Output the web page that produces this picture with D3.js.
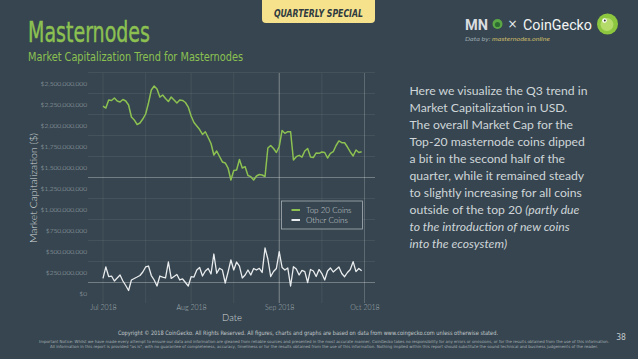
<!DOCTYPE html>
<html>
<head>
<meta charset="utf-8">
<script src="https://cdn.jsdelivr.net/npm/d3@7"></script>
<style>
  html, body { margin: 0; padding: 0; background: #36454f; }
  svg { display: block; }
</style>
</head>
<body>
<svg id="chart" width="638" height="359"></svg>
<script>
// ---------------- DATA ----------------
const startDate = "2018-07-01"; // daily values from this date
// Top 20 masternode coins market cap (billions USD)
const top20Values = [
  2.226, 2.202, 2.298, 2.292, 2.321, 2.286, 2.274, 2.304, 2.286, 2.238,
  2.095, 2.060, 2.006, 2.024, 2.071, 2.131, 2.262, 2.417, 2.464, 2.429,
  2.333, 2.357, 2.315, 2.280, 2.333, 2.298, 2.262, 2.298, 2.292, 2.268,
  2.214, 2.107, 2.030, 1.988, 1.946, 1.887, 1.920, 1.851, 1.780, 1.643,
  1.690, 1.625, 1.560, 1.548, 1.488, 1.345, 1.458, 1.464, 1.589, 1.488,
  1.504, 1.399, 1.385, 1.345, 1.393, 1.411, 1.405, 1.387, 1.726, 1.756,
  1.720, 1.673, 1.744, 1.935, 1.901, 1.920, 1.920, 1.583, 1.623, 1.639,
  1.617, 1.690, 1.720, 1.619, 1.613, 1.667, 1.663, 1.679, 1.673, 1.607,
  1.661, 1.682, 1.756, 1.810, 1.789, 1.789, 1.738, 1.679, 1.631, 1.702,
  1.673, 1.682
];
// Other coins market cap (millions USD)
const otherValues = [
  175, 310, 196, 202, 143, 179, 214, 143, 89, 30,
  155, 173, 190, 208, 250, 310, 321, 208, 155, 83,
  202, 190, 179, 369, 173, 196, 220, 155, 167, 125,
  83, 194, 190, 274, 304, 202, 262, 292, 226, 464,
  235, 294, 274, 119, 250, 393, 274, 369, 321, 179,
  214, 274, 214, 292, 274, 294, 244, 536, 405, 196,
  256, 292, 492, 304, 274, 298, 83, 313, 286, 214,
  270, 254, 125, 280, 262, 196, 280, 232, 155, 262,
  298, 250, 280, 310, 232, 194, 244, 280, 373, 254,
  292, 265
];
const seriesNames = ["Top 20 Coins", "Other Coins"];
const yTicks = [0, 250e6, 500e6, 750e6, 1000e6, 1250e6, 1500e6, 1750e6, 2000e6, 2250e6, 2500e6];
const xTickDates = ["2018-07-01", "2018-08-01", "2018-09-01", "2018-10-01"];
const xTickLabels = ["Jul 2018", "Aug 2018", "Sep 2018", "Oct 2018"];
const xGridDates = ["2018-07-01", "2018-07-16", "2018-08-01", "2018-08-16", "2018-09-01", "2018-09-16", "2018-10-01"];
const paragraph = [
  [["Here we visualize the Q3 trend in", false]],
  [["Market Capitalization in USD.", false]],
  [["The overall Market Cap for the", false]],
  [["Top-20 masternode coins dipped", false]],
  [["a bit in the second half of the", false]],
  [["quarter, while it remained steady", false]],
  [["to slightly increasing for all coins", false]],
  [["outside of the top 20 ", false], ["(partly due", true]],
  [["to the introduction of new coins", true]],
  [["into the ecosystem)", true]]
];

// ---------------- DRAW ----------------
const svg = d3.select("#chart");
const W = 638, H = 359;
const bg = "#36454f";
const green = "#8cc152";
svg.append("rect").attr("width", W).attr("height", H).attr("fill", bg);

const parse = d3.timeParse("%Y-%m-%d");
const d0 = parse(startDate);
const dateAt = i => d3.timeDay.offset(d0, i);
const top20 = top20Values.map((v, i) => ({ date: dateAt(i), value: v * 1e9 }));
const other = otherValues.map((v, i) => ({ date: dateAt(i), value: v * 1e6 }));

const x = d3.scaleTime().domain([parse("2018-07-01"), parse("2018-10-01")]).range([103, 364.5]);
const y = d3.scaleLinear().domain([0, 2.5e9]).range([293, 83]);
const plotLeft = 88, plotRight = 375, plotTop = 73, plotBottom = 303;

// Header
svg.append("text").attr("x", 28).attr("y", 42)
  .attr("font-family", "'Liberation Sans Narrow','DejaVu Sans Condensed','Roboto',sans-serif")
  .attr("font-size", 28).attr("fill", green)
  .attr("stroke", green).attr("stroke-width", 0.4)
  .attr("textLength", 122).attr("lengthAdjust", "spacingAndGlyphs")
  .text("Masternodes");
svg.append("text").attr("x", 28).attr("y", 61)
  .attr("font-family", "'Liberation Sans Narrow','DejaVu Sans Condensed','Roboto',sans-serif")
  .attr("font-size", 12.5).attr("fill", green)
  .attr("textLength", 215).attr("lengthAdjust", "spacingAndGlyphs")
  .text("Market Capitalization Trend for Masternodes");

// Quarterly special tab
svg.append("path")
  .attr("d", "M262,0 H375 V19 Q375,23 371,23 H266 Q262,23 262,19 Z")
  .attr("fill", "#f6e18c");
svg.append("text").attr("x", 318.5).attr("y", 16.5).attr("text-anchor", "middle")
  .attr("font-family", "'DejaVu Sans Condensed','Liberation Sans Narrow',sans-serif")
  .attr("font-weight", "bold").attr("font-style", "italic")
  .attr("font-size", 11).attr("fill", "#2f3b40")
  .attr("textLength", 89).attr("lengthAdjust", "spacingAndGlyphs")
  .text("QUARTERLY SPECIAL");

// Logos
svg.append("text").attr("x", 465).attr("y", 29.5)
  .attr("font-family", "Roboto, sans-serif").attr("font-weight", "bold")
  .attr("font-size", 15).attr("fill", "#d9dde0")
  .attr("textLength", 23).attr("lengthAdjust", "spacingAndGlyphs").text("MN");
svg.append("circle").attr("cx", 497.5).attr("cy", 24).attr("r", 5).attr("fill", "#5aa845");
svg.append("circle").attr("cx", 497.5).attr("cy", 24.5).attr("r", 2.6).attr("fill", "#2e6b33");
svg.append("text").attr("x", 512.5).attr("y", 28).attr("text-anchor", "middle")
  .attr("font-family", "'DejaVu Sans', sans-serif").attr("font-size", 12).attr("fill", "#e8ecee").text("×");
svg.append("text").attr("x", 523).attr("y", 29.5)
  .attr("font-family", "Roboto, 'Open Sans', sans-serif")
  .attr("font-size", 15.5).attr("fill", "#f2f4f5")
  .attr("textLength", 69).attr("lengthAdjust", "spacingAndGlyphs").text("CoinGecko");
svg.append("circle").attr("cx", 607.5).attr("cy", 24).attr("r", 10.5).attr("fill", "#8dc63f");
svg.append("circle").attr("cx", 607).attr("cy", 24.5).attr("r", 6.5).attr("fill", "#b5dc6a");
svg.append("circle").attr("cx", 604.5).attr("cy", 20.5).attr("r", 2.3).attr("fill", "#ffffff");
svg.append("circle").attr("cx", 604.8).attr("cy", 20.6).attr("r", 1).attr("fill", "#333");
const dataBy = svg.append("text").attr("x", 465).attr("y", 41)
  .attr("font-family", "Lato, sans-serif").attr("font-style", "italic")
  .attr("font-size", 6.5)
  .attr("textLength", 85).attr("lengthAdjust", "spacingAndGlyphs");
dataBy.append("tspan").attr("fill", "#9aa5ad").text("Data by: ");
dataBy.append("tspan").attr("fill", "#c9b86a").text("masternodes.online");

// Gridlines
const gridColor = "rgba(255,255,255,0.07)";
const grid = svg.append("g");
const gridVals = yTicks.map(v => v - 125e6).filter(v => v > 0).concat([2.625e9]);
grid.selectAll("line.h").data(gridVals).join("line")
  .attr("x1", plotLeft).attr("x2", plotRight)
  .attr("y1", d => y(d)).attr("y2", d => y(d))
  .attr("stroke", gridColor).attr("stroke-width", 1);
grid.selectAll("line.v").data(xGridDates.map(parse)).join("line")
  .attr("x1", d => x(d)).attr("x2", d => x(d))
  .attr("y1", plotTop).attr("y2", plotBottom)
  .attr("stroke", gridColor).attr("stroke-width", 1);
// brighter reference lines
const refH = [1.375e9, 0.125e9];
grid.selectAll("line.rh").data(refH).join("line")
  .attr("x1", plotLeft).attr("x2", plotRight)
  .attr("y1", d => y(d)).attr("y2", d => y(d))
  .attr("stroke", "rgba(255,255,255,0.25)").attr("stroke-width", 1);
grid.append("line")
  .attr("x1", x(parse("2018-09-01"))).attr("x2", x(parse("2018-09-01")))
  .attr("y1", plotTop).attr("y2", plotBottom)
  .attr("stroke", "rgba(255,255,255,0.3)").attr("stroke-width", 1);
grid.append("line")
  .attr("x1", x(parse("2018-10-01"))).attr("x2", x(parse("2018-10-01")))
  .attr("y1", plotTop).attr("y2", plotBottom)
  .attr("stroke", "rgba(255,255,255,0.14)").attr("stroke-width", 1);

// Y axis
const yAxis = svg.append("g").attr("transform", "translate(87,0)")
  .call(d3.axisLeft(y).tickValues(yTicks).tickSize(0).tickPadding(0).tickFormat(d3.format("$,.0f")));
yAxis.select(".domain").remove();
yAxis.selectAll("text").attr("font-family", "Lato, sans-serif").attr("font-weight", 300)
  .attr("font-size", 6.6).attr("fill", "#a9b2b8");

// X axis
const xAxis = svg.append("g").attr("transform", "translate(0,303)")
  .call(d3.axisBottom(x).tickValues(xTickDates.map(parse)).tickSize(0).tickPadding(0)
    .tickFormat((d, i) => xTickLabels[i]));
xAxis.select(".domain").remove();
xAxis.selectAll("text").attr("dy", "0.71em").attr("y", 2.5)
  .attr("font-family", "Lato, sans-serif").attr("font-weight", 300)
  .attr("font-size", 7).attr("fill", "#a9b2b8");

// Axis titles
svg.append("text").attr("transform", "translate(36.5,188) rotate(-90)")
  .attr("text-anchor", "middle")
  .attr("font-family", "Lato, sans-serif").attr("font-weight", 300)
  .attr("font-size", 10.5).attr("fill", "#d3d8db")
  .text("Market Capitalization ($)");
svg.append("text").attr("x", 232).attr("y", 321).attr("text-anchor", "middle")
  .attr("font-family", "Lato, sans-serif").attr("font-weight", 300)
  .attr("font-size", 9.5).attr("fill", "#d3d8db").text("Date");

// Lines
const line = d3.line().x(d => x(d.date)).y(d => y(d.value));
svg.append("path").datum(other).attr("d", line)
  .attr("fill", "none").attr("stroke", "#e9ecee").attr("stroke-width", 1.3).attr("stroke-linejoin", "round");
svg.append("path").datum(top20).attr("d", line)
  .attr("fill", "none").attr("stroke", green).attr("stroke-width", 1.5).attr("stroke-linejoin", "round");

// Legend
const lg = svg.append("g").attr("transform", "translate(281.5,201)");
lg.append("rect").attr("width", 81).attr("height", 28)
  .attr("fill", bg).attr("stroke", "#a9b1b6").attr("stroke-width", 0.8);
const legendColors = [green, "#e9ecee"];
seriesNames.forEach((n, i) => {
  lg.append("line").attr("x1", 10).attr("x2", 18.5)
    .attr("y1", 9 + i * 10).attr("y2", 9 + i * 10)
    .attr("stroke", legendColors[i]).attr("stroke-width", 2);
  lg.append("text").attr("x", 24.5).attr("y", 12 + i * 10)
    .attr("font-family", "Lato, sans-serif").attr("font-weight", 300)
    .attr("font-size", 8).attr("fill", "#d3d8db").text(n);
});

// Paragraph
const para = svg.append("g");
paragraph.forEach((parts, i) => {
  const t = para.append("text").attr("x", 409.5).attr("y", 94.5 + i * 17.1)
    .attr("font-family", "Lato, 'Open Sans', sans-serif")
    .attr("font-size", 12.2).attr("fill", "#cfd5d9");
  parts.forEach(([s, it]) => {
    t.append("tspan").attr("font-style", it ? "italic" : "normal").text(s);
  });
});

// Footer
svg.append("text").attr("x", 308).attr("y", 335).attr("text-anchor", "middle")
  .attr("font-family", "'Liberation Sans Narrow','DejaVu Sans Condensed',sans-serif")
  .attr("font-size", 6).attr("fill", "#c3c9cd")
  .attr("textLength", 380).attr("lengthAdjust", "spacingAndGlyphs")
  .text("Copyright © 2018 CoinGecko. All Rights Reserved. All figures, charts and graphs are based on data from www.coingecko.com unless otherwise stated.");
svg.append("text").attr("x", 324).attr("y", 342.5).attr("text-anchor", "middle")
  .attr("font-family", "'Liberation Sans Narrow','DejaVu Sans Condensed',sans-serif")
  .attr("font-size", 4).attr("fill", "#a7b0b5")
  .attr("textLength", 570).attr("lengthAdjust", "spacingAndGlyphs")
  .text("Important Notice: Whilst we have made every attempt to ensure our data and information are gleaned from reliable sources and presented in the most accurate manner, CoinGecko takes no responsibility for any errors or omissions, or for the results obtained from the use of this information.");
svg.append("text").attr("x", 324).attr("y", 348).attr("text-anchor", "middle")
  .attr("font-family", "'Liberation Sans Narrow','DejaVu Sans Condensed',sans-serif")
  .attr("font-size", 4).attr("fill", "#a7b0b5")
  .attr("textLength", 548).attr("lengthAdjust", "spacingAndGlyphs")
  .text("All information in this report is provided \"as is\", with no guarantee of completeness, accuracy, timeliness or for the results obtained from the use of this information. Nothing implied within this report should substitute the sound technical and business judgements of the reader.");
svg.append("text").attr("x", 621).attr("y", 340).attr("text-anchor", "middle")
  .attr("font-family", "'Liberation Sans Narrow','DejaVu Sans Condensed',sans-serif")
  .attr("font-size", 8.5).attr("fill", "#c3c9cd").text("38");
</script>
</body>
</html>
